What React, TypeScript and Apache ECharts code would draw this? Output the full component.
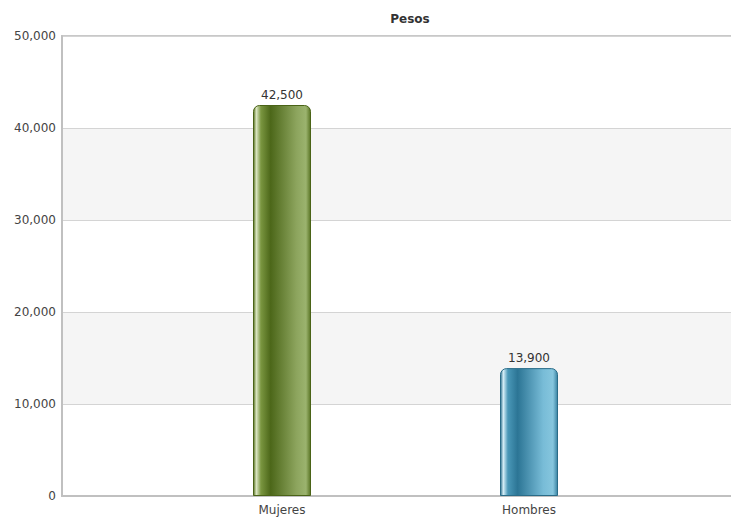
import React, { useEffect, useRef } from "react";
import * as echarts from "echarts";

const categories = ["Mujeres", "Hombres"];
const values = [42500, 13900];
const yTicks = [0, 10000, 20000, 30000, 40000, 50000];

const FONT = "DejaVu Sans, Verdana, sans-serif";

const green = new echarts.graphic.LinearGradient(0, 0, 1, 0, [
  { offset: 0, color: "#56701f" },
  { offset: 0.05, color: "#dbe6c2" },
  { offset: 0.13, color: "#7a9640" },
  { offset: 0.3, color: "#4c6719" },
  { offset: 0.75, color: "#8ca45d" },
  { offset: 0.92, color: "#9bb36e" },
  { offset: 1, color: "#5a7525" },
]);
const blue = new echarts.graphic.LinearGradient(0, 0, 1, 0, [
  { offset: 0, color: "#2c6f8c" },
  { offset: 0.05, color: "#d6eef7" },
  { offset: 0.13, color: "#4a98b8" },
  { offset: 0.3, color: "#2c7595" },
  { offset: 0.75, color: "#78bcd7" },
  { offset: 0.92, color: "#86c6de" },
  { offset: 1, color: "#3a83a2" },
]);
const barColors = [green, blue];

export default function App() {
  const ref = useRef<HTMLDivElement>(null);
  useEffect(() => {
    if (!ref.current) return;
    const chart = echarts.init(ref.current, null, { renderer: "svg" });
    chart.setOption({
      animation: false,
      backgroundColor: "#ffffff",
      title: {
        text: "Pesos",
        left: 405,
        textAlign: "center",
        top: 8,
        textStyle: { fontFamily: FONT, fontSize: 12, fontWeight: "bold", color: "#333" },
      },
      grid: {
        left: 62,
        top: 36,
        width: 687,
        height: 460,
        outerBoundsMode: "none",
        containLabel: false,
        show: true,
        borderColor: "#c8c8c8",
        borderWidth: 2,
        backgroundColor: "transparent",
      },
      xAxis: {
        type: "value",
        min: -220 / 247,
        max: 467 / 247,
        splitLine: { show: false },
        axisLine: { show: true, onZero: false, lineStyle: { color: "#c0c0c0", width: 2 } },
        axisTick: { show: false },
        axisLabel: {
          customValues: [0, 1],
          formatter: (v: number) => categories[Math.round(v)] ?? "",
          fontFamily: FONT,
          fontSize: 12,
          color: "#444",
          margin: 8,
        },
      },
      yAxis: {
        type: "value",
        min: yTicks[0],
        max: yTicks[yTicks.length - 1],
        interval: 10000,
        axisLine: { show: true, onZero: false, lineStyle: { color: "#c0c0c0", width: 2 } },
        axisTick: { show: false },
        splitLine: { show: true, lineStyle: { color: "#d4d4d4", width: 1 } },
        splitArea: { show: true, areaStyle: { color: ["#ffffff", "#f5f5f5"] } },
        axisLabel: {
          formatter: (v: number) => v.toLocaleString("en-US"),
          fontFamily: FONT,
          fontSize: 12,
          color: "#444",
          margin: 6,
        },
      },
      series: [
        {
          type: "bar",
          barWidth: 58,
          data: values.map((v, i) => ({
            value: [i, v],
            itemStyle: {
              color: barColors[i],
              borderRadius: [6, 6, 0, 0],
              borderColor: i === 0 ? "#4a6317" : "#2a6c88",
              borderWidth: 1,
            },
          })),
          label: {
            show: true,
            position: "top",
            distance: 4,
            formatter: (p: any) => Number(p.value[1]).toLocaleString("en-US"),
            fontFamily: FONT,
            fontSize: 12,
            color: "#333",
          },
        },
      ],
    });
    return () => chart.dispose();
  }, []);
  return <div ref={ref} style={{ width: 739, height: 518, marginLeft: -8, marginTop: -8 }} />;
}
